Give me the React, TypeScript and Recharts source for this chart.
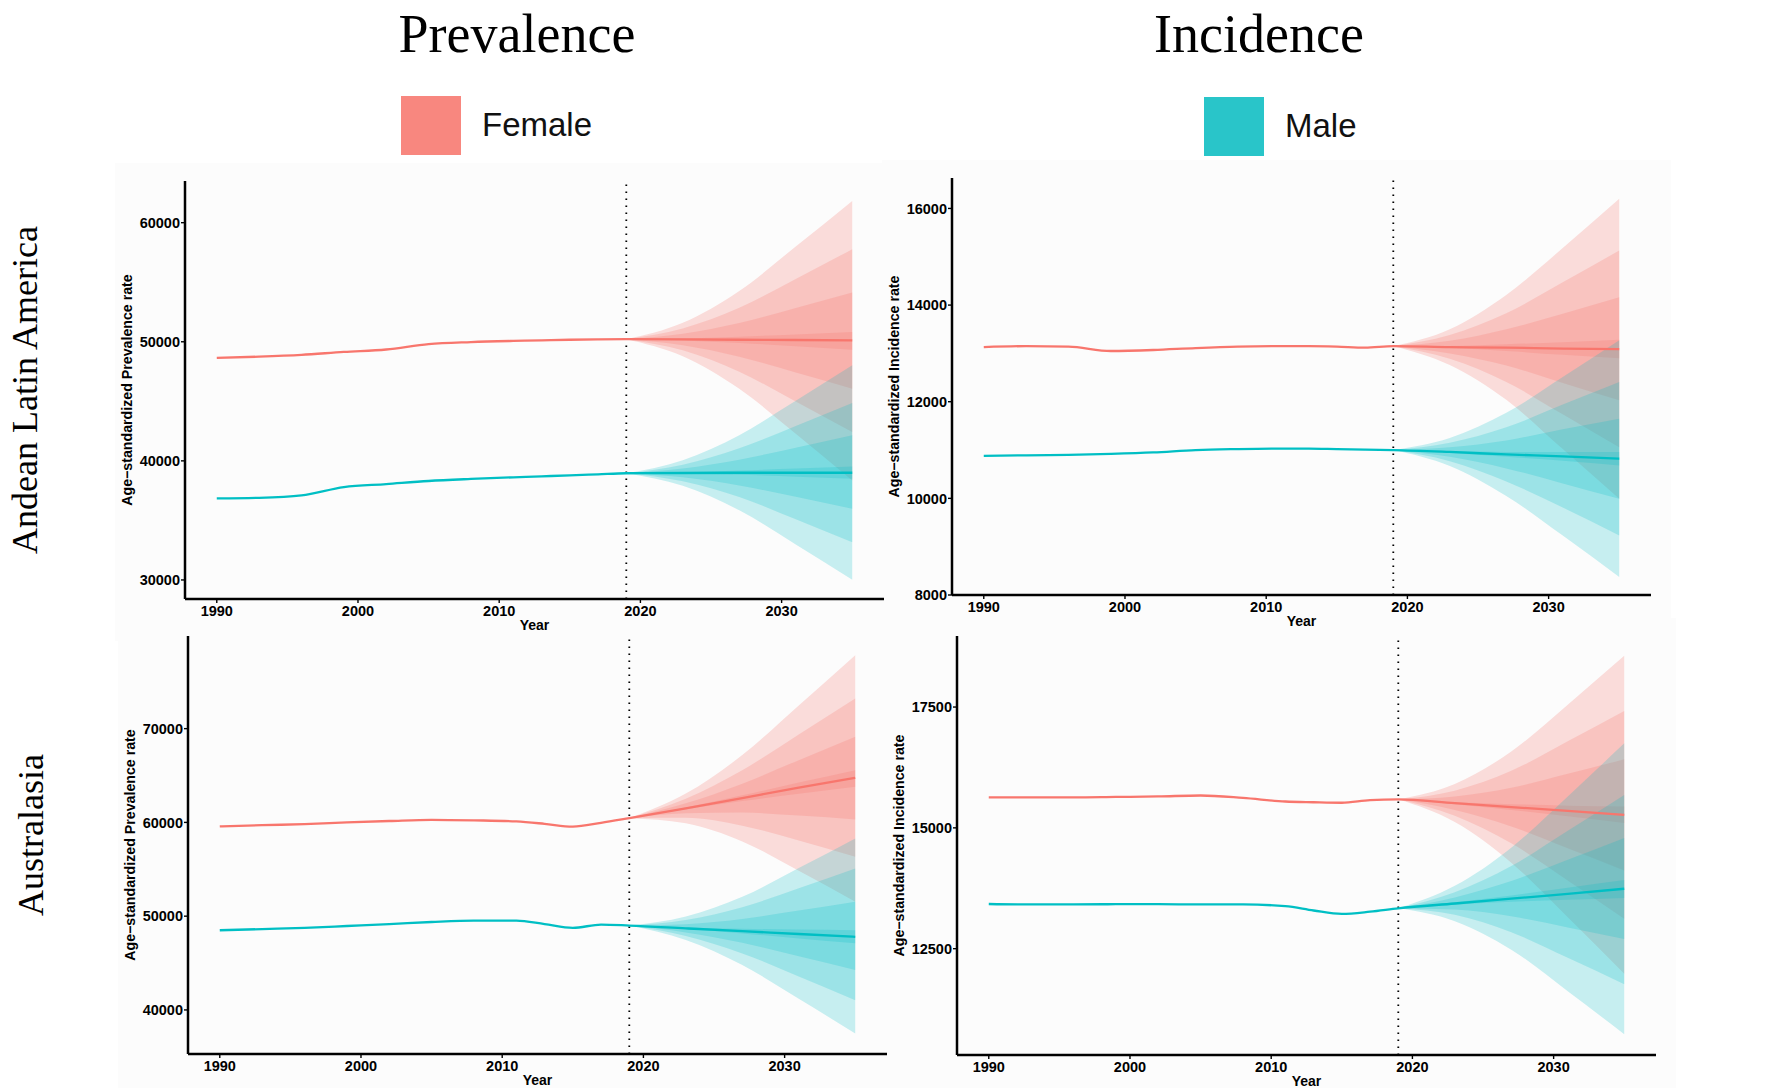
import { ComposedChart, Line, Area, XAxis, YAxis, ReferenceLine } from "recharts";

const FEMALE = "#F8766D";
const MALE = "#00BFC4";
const SANS = "'Liberation Sans', Arial, Helvetica, sans-serif";
const SERIF = "'Liberation Serif', 'Times New Roman', serif";

// years sampled for the observed part and for the projection (2019 = last observed)
const histYears = [1990, 1993, 1996, 1999, 2002, 2005, 2008, 2011, 2013, 2015, 2017];
const projYears = [2019, 2023, 2027, 2031, 2035];
const yearTicks = [1990, 2000, 2010, 2020, 2030];

// Andean Latin America - prevalence
const alaPrevFemaleHist = [48650, 48750, 48900, 49150, 49350, 49800, 49970, 50070, 50120, 50170, 50200];
const alaPrevFemaleProj = [50220, 50200, 50170, 50150, 50120];
const alaPrevFemaleHi = [
  [50220, 51600, 54270, 58000, 61830],
  [50220, 51120, 52850, 55280, 57770],
  [50220, 50680, 51570, 52840, 54130],
  [50220, 50280, 50420, 50620, 50820],
];
const alaPrevFemaleLo = [
  [50220, 48790, 46050, 42270, 38360],
  [50220, 49280, 47480, 44990, 42420],
  [50220, 49710, 48750, 47430, 46060],
  [50220, 50110, 49900, 49630, 49340],
];
const alaPrevMaleHist = [36850, 36900, 37100, 37800, 38050, 38310, 38480, 38620, 38700, 38780, 38870];
const alaPrevMaleProj = [38960, 38980, 39000, 39000, 39000];
const alaPrevMaleHi = [
  [38960, 40060, 42160, 45040, 48020],
  [38960, 39680, 41050, 42920, 44850],
  [38960, 39360, 40100, 41100, 42140],
  [38960, 39040, 39190, 39360, 39530],
];
const alaPrevMaleLo = [
  [38960, 37900, 35850, 32980, 30010],
  [38960, 38280, 36960, 35090, 33170],
  [38960, 38620, 37940, 36980, 35980],
  [38960, 38920, 38830, 38670, 38500],
];

// Andean Latin America - incidence
const alaIncFemaleHist = [13130, 13150, 13140, 13050, 13070, 13110, 13140, 13150, 13150, 13140, 13120];
const alaIncFemaleProj = [13150, 13130, 13120, 13100, 13090];
const alaIncFemaleHi = [
  [13150, 13500, 14210, 15180, 16200],
  [13150, 13380, 13830, 14470, 15130],
  [13150, 13260, 13500, 13820, 14160],
  [13150, 13155, 13190, 13230, 13280],
];
const alaIncFemaleLo = [
  [13150, 12760, 12040, 11020, 9990],
  [13150, 12890, 12410, 11740, 11060],
  [13150, 13000, 12750, 12390, 12030],
  [13150, 13110, 13050, 12970, 12900],
];
const alaIncMaleHist = [10880, 10890, 10900, 10920, 10950, 11000, 11020, 11030, 11030, 11020, 11010];
const alaIncMaleProj = [11000, 10960, 10910, 10870, 10820];
const alaIncMaleHi = [
  [11000, 11250, 11770, 12510, 13270],
  [11000, 11150, 11470, 11940, 12410],
  [11000, 11060, 11200, 11430, 11650],
  [11000, 10980, 10960, 10960, 10960],
];
const alaIncMaleLo = [
  [11000, 10670, 10050, 9230, 8370],
  [11000, 10770, 10350, 9810, 9230],
  [11000, 10860, 10620, 10310, 9990],
  [11000, 10940, 10860, 10780, 10680],
];

// Australasia - prevalence
const ausPrevFemaleHist = [59570, 59700, 59820, 60000, 60150, 60280, 60220, 60100, 59850, 59550, 59950];
const ausPrevFemaleProj = [60450, 61500, 62600, 63700, 64750];
const ausPrevFemaleHi = [
  [60450, 63070, 67180, 72470, 77840],
  [60450, 62520, 65570, 69380, 73220],
  [60450, 62030, 64130, 66640, 69130],
  [60450, 61600, 62890, 64250, 65570],
];
const ausPrevFemaleLo = [
  [60450, 59910, 57970, 54840, 51530],
  [60450, 60490, 59650, 58060, 56330],
  [60450, 60970, 61050, 60730, 60320],
  [60450, 61390, 62270, 63060, 63800],
];
const ausPrevMaleHist = [48500, 48620, 48750, 48950, 49150, 49380, 49530, 49530, 49150, 48750, 49100];
const ausPrevMaleProj = [49000, 48700, 48400, 48100, 47800];
const ausPrevMaleHi = [
  [49000, 49960, 52070, 55130, 58290],
  [49000, 49580, 50950, 52980, 55090],
  [49000, 49150, 49710, 50600, 51530],
  [49000, 48790, 48650, 48580, 48510],
];
const ausPrevMaleLo = [
  [49000, 47460, 44790, 41190, 37490],
  [49000, 47890, 46030, 43570, 41040],
  [49000, 48270, 47160, 45720, 44250],
  [49000, 48620, 48160, 47630, 47100],
];

// Australasia - incidence
const ausIncFemaleHist = [15630, 15630, 15630, 15640, 15650, 15670, 15620, 15545, 15530, 15520, 15575];
const ausIncFemaleProj = [15590, 15510, 15430, 15350, 15270];
const ausIncFemaleHi = [
  [15590, 15910, 16580, 17550, 18560],
  [15590, 15770, 16180, 16790, 17420],
  [15590, 15650, 15830, 16120, 16420],
  [15590, 15530, 15490, 15460, 15440],
];
const ausIncFemaleLo = [
  [15590, 15120, 14280, 13150, 11980],
  [15590, 15250, 14680, 13910, 13120],
  [15590, 15370, 15030, 14580, 14120],
  [15590, 15490, 15370, 15240, 15100],
];
const ausIncMaleHist = [13425, 13415, 13415, 13420, 13420, 13415, 13415, 13380, 13290, 13220, 13265];
const ausIncMaleProj = [13335, 13435, 13535, 13635, 13740];
const ausIncMaleHi = [
  [13335, 13800, 14590, 15650, 16750],
  [13335, 13670, 14210, 14940, 15680],
  [13335, 13560, 13900, 14340, 14790],
  [13335, 13460, 13600, 13760, 13920],
];
const ausIncMaleLo = [
  [13335, 13070, 12480, 11620, 10730],
  [13335, 13200, 12840, 12310, 11765],
  [13335, 13310, 13170, 12940, 12700],
  [13335, 13410, 13470, 13510, 13550],
];

const prevTicksAla = [30000, 40000, 50000, 60000];
const incTicksAla = [8000, 10000, 12000, 14000, 16000];
const prevTicksAus = [40000, 50000, 60000, 70000];
const incTicksAus = [12500, 15000, 17500];

// layout
const X_DOMAIN = [1987.75, 2037.25];
const YW = 75;
const MT = 5;
const MR = 6;
const XH = 40;
const PW = 699;

function buildRows(fHist, fProj, fHi, fLo, mHist, mProj, mHi, mLo) {
  const rows: any[] = histYears.map((year, i) => ({ year, female: fHist[i], male: mHist[i] }));
  projYears.forEach((year, j) => {
    const row: any = { year, female: fProj[j], male: mProj[j] };
    for (let k = 0; k < 4; k++) {
      row["f" + k] = [fLo[k][j], fHi[k][j]];
      row["m" + k] = [mLo[k][j], mHi[k][j]];
    }
    rows.push(row);
  });
  return rows;
}

const panels = [
  {
    key: "ala-prev",
    left: 185, top: 181, height: 418,
    domain: [28400, 63500], ticks: prevTicksAla,
    label: "Age\u2212standardized Prevalence rate",
    rows: buildRows(alaPrevFemaleHist, alaPrevFemaleProj, alaPrevFemaleHi, alaPrevFemaleLo,
      alaPrevMaleHist, alaPrevMaleProj, alaPrevMaleHi, alaPrevMaleLo),
  },
  {
    key: "ala-inc",
    left: 952, top: 178, height: 417,
    domain: [8000, 16630], ticks: incTicksAla,
    label: "Age\u2212standardized Incidence rate",
    rows: buildRows(alaIncFemaleHist, alaIncFemaleProj, alaIncFemaleHi, alaIncFemaleLo,
      alaIncMaleHist, alaIncMaleProj, alaIncMaleHi, alaIncMaleLo),
  },
  {
    key: "aus-prev",
    left: 188, top: 636, height: 418,
    domain: [35300, 79880], ticks: prevTicksAus,
    label: "Age\u2212standardized Prevalence rate",
    rows: buildRows(ausPrevFemaleHist, ausPrevFemaleProj, ausPrevFemaleHi, ausPrevFemaleLo,
      ausPrevMaleHist, ausPrevMaleProj, ausPrevMaleHi, ausPrevMaleLo),
  },
  {
    key: "aus-inc",
    left: 957, top: 636, height: 419,
    domain: [10300, 18970], ticks: incTicksAus,
    label: "Age\u2212standardized Incidence rate",
    rows: buildRows(ausIncFemaleHist, ausIncFemaleProj, ausIncFemaleHi, ausIncFemaleLo,
      ausIncMaleHist, ausIncMaleProj, ausIncMaleHi, ausIncMaleLo),
  },
];

const tickStyle = { fill: "#000", fontSize: 14.5, fontWeight: 700, fontFamily: SANS };
const axisLineStyle = { stroke: "#000", strokeWidth: 2.5 };
const tickLineStyle = { stroke: "#000", strokeWidth: 1.4 };

function Panel({ p }) {
  const width = YW + PW + MR;
  const height = MT + p.height + XH;
  return (
    <div style={{ position: "absolute", left: p.left - YW, top: p.top - MT, width, height }}>
      <ComposedChart width={width} height={height} data={p.rows} margin={{ top: MT, right: MR, bottom: 0, left: 0 }}>
        <XAxis
          dataKey="year"
          type="number"
          domain={X_DOMAIN}
          ticks={yearTicks}
          interval={0}
          allowDataOverflow
          height={XH}
          axisLine={axisLineStyle}
          tickLine={tickLineStyle}
          tickSize={4}
          tickMargin={3}
          tick={tickStyle}
        />
        <YAxis
          type="number"
          domain={p.domain}
          ticks={p.ticks}
          interval={0}
          allowDataOverflow
          width={YW}
          axisLine={axisLineStyle}
          tickLine={tickLineStyle}
          tickSize={4}
          tickMargin={1}
          tick={tickStyle}
        />
        {[0, 1, 2, 3].map((k) => (
          <Area
            key={"f" + k}
            dataKey={"f" + k}
            type="monotone"
            fill={FEMALE}
            fillOpacity={0.23}
            stroke="none"
            dot={false}
            activeDot={false}
            isAnimationActive={false}
          />
        ))}
        {[0, 1, 2, 3].map((k) => (
          <Area
            key={"m" + k}
            dataKey={"m" + k}
            type="monotone"
            fill={MALE}
            fillOpacity={0.21}
            stroke="none"
            dot={false}
            activeDot={false}
            isAnimationActive={false}
          />
        ))}
        <ReferenceLine x={2019} stroke="#000" strokeWidth={1.8} strokeDasharray="1.6 5.4" />
        <Line dataKey="female" type="monotone" stroke={FEMALE} strokeWidth={2.3} dot={false} activeDot={false} isAnimationActive={false} />
        <Line dataKey="male" type="monotone" stroke={MALE} strokeWidth={2.3} dot={false} activeDot={false} isAnimationActive={false} />
      </ComposedChart>
    </div>
  );
}

export default function App() {
  return (
    <div style={{ position: "absolute", left: 0, top: 0, width: 1771, height: 1088, background: "#fff", overflow: "hidden" }}>
      {panels.map((p) => (
        <div key={p.key + "-bg"} style={{ position: "absolute", left: p.left - 70, top: p.top - 18, width: PW + 90, height: p.height + 60, background: "#fcfcfc" }} />
      ))}
      <svg width={1771} height={1088} style={{ position: "absolute", left: 0, top: 0 }}>
        <text x={517} y={52} textAnchor="middle" fontFamily={SERIF} fontSize={54} fill="#000">Prevalence</text>
        <text x={1259} y={52} textAnchor="middle" fontFamily={SERIF} fontSize={54} fill="#000">Incidence</text>

        <rect x={401} y={96} width={60} height={59} fill="#F8877F" />
        <text x={482} y={136} fontFamily={SANS} fontSize={33} fill="#111">Female</text>
        <rect x={1204} y={97} width={60} height={59} fill="#29C5C9" />
        <text x={1285} y={137} fontFamily={SANS} fontSize={33} fill="#111">Male</text>

        <text x={25} y={390} transform="rotate(-90 25 390)" textAnchor="middle" dominantBaseline="central" fontFamily={SERIF} fontSize={36} fill="#000">Andean Latin America</text>
        <text x={31} y={835} transform="rotate(-90 31 835)" textAnchor="middle" dominantBaseline="central" fontFamily={SERIF} fontSize={36} fill="#000">Australasia</text>

        {panels.map((p) => {
          const lx = p.left - 58;
          const ly = p.top + p.height / 2;
          return (
            <g key={p.key + "-labels"}>
              <text x={lx} y={ly} transform={`rotate(-90 ${lx} ${ly})`} textAnchor="middle" dominantBaseline="central" fontFamily={SANS} fontWeight={700} fontSize={14.2} fill="#000">{p.label}</text>
              <text x={p.left + PW / 2} y={p.top + p.height + 31} textAnchor="middle" fontFamily={SANS} fontWeight={700} fontSize={14} fill="#000">Year</text>
            </g>
          );
        })}
      </svg>
      {panels.map((p) => (
        <Panel key={p.key} p={p} />
      ))}
    </div>
  );
}
